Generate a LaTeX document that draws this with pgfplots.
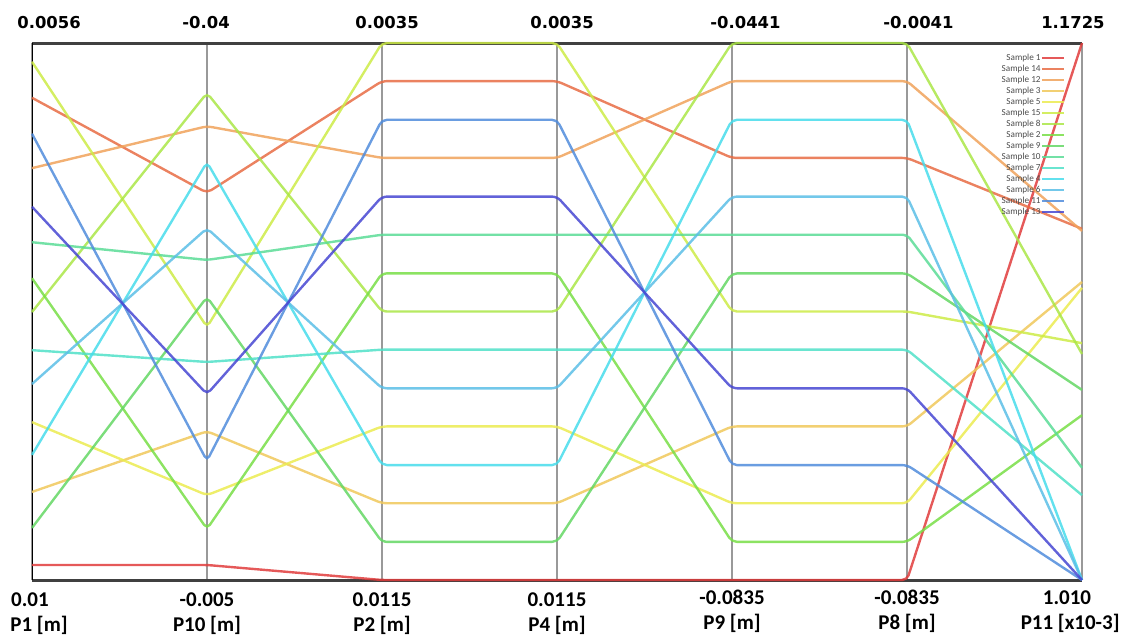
\documentclass[border=0pt]{standalone}
\usepackage{fontspec}
\setmainfont{Carlito}
\newfontfamily\topfont{DejaVu Sans}
\usepackage{pgfplots}
\pgfplotsset{compat=1.18}
\definecolor{s1}{RGB}{225,60,60}
\definecolor{s14}{RGB}{232,108,68}
\definecolor{s12}{RGB}{240,162,90}
\definecolor{s3}{RGB}{240,200,90}
\definecolor{s5}{RGB}{235,235,80}
\definecolor{s15}{RGB}{205,235,70}
\definecolor{s8}{RGB}{170,230,70}
\definecolor{s2}{RGB}{120,222,70}
\definecolor{s9}{RGB}{100,215,100}
\definecolor{s10}{RGB}{90,220,150}
\definecolor{s7}{RGB}{80,225,200}
\definecolor{s4}{RGB}{70,220,235}
\definecolor{s6}{RGB}{90,190,230}
\definecolor{s11}{RGB}{80,140,220}
\definecolor{s13}{RGB}{70,70,210}
\begin{document}
\begin{tikzpicture}
\begin{axis}[
  at={(0,0)}, anchor=south west,
  scale only axis, width=525pt, height=268.5pt,
  xmin=0, xmax=6, ymin=0, ymax=1,
  clip=false,
  axis x line*=box, axis y line*=none,
  x axis line style={line width=1.5pt, color=black!75},
  xtick={0,...,6}, xticklabels={}, ytick=\empty,
  major tick length=0pt,
  xmajorgrids, major grid style={line width=1pt, color=black!40},
  every axis plot/.append style={line width=1.2pt, opacity=0.85, rounded corners=2.5pt},
  legend cell align=right, legend plot pos=right,
  legend image code/.code={\draw[line width=1.2pt] (0pt,0pt) -- (11pt,0pt);},
  legend style={at={(0.9905,0.989)}, anchor=north east, draw=none, fill=none,
    font=\fontsize{4.6}{5}\selectfont, text=black!70,
    nodes={inner sep=0.3pt, text height=3.2pt, text depth=1pt},
    row sep=0.7pt},
]
\addplot[s1] coordinates {(0,0.028)(1,0.028)(2,0)(3,0)(4,0)(5,0)(6,1)};
\addlegendentry{Sample 1}
\addplot[s14] coordinates {(0,0.898)(1,0.721)(2,0.929)(3,0.929)(4,0.786)(5,0.786)(6,0.654)};
\addlegendentry{Sample 14}
\addplot[s12] coordinates {(0,0.767)(1,0.845)(2,0.786)(3,0.786)(4,0.929)(5,0.929)(6,0.650)};
\addlegendentry{Sample 12}
\addplot[s3] coordinates {(0,0.164)(1,0.277)(2,0.143)(3,0.143)(4,0.286)(5,0.286)(6,0.555)};
\addlegendentry{Sample 3}
\addplot[s5] coordinates {(0,0.294)(1,0.158)(2,0.286)(3,0.286)(4,0.143)(5,0.143)(6,0.544)};
\addlegendentry{Sample 5}
\addplot[s15] coordinates {(0,0.965)(1,0.471)(2,1)(3,1)(4,0.5)(5,0.5)(6,0.441)};
\addlegendentry{Sample 15}
\addplot[s8] coordinates {(0,0.499)(1,0.907)(2,0.5)(3,0.5)(4,1)(5,1)(6,0.421)};
\addlegendentry{Sample 8}
\addplot[s2] coordinates {(0,0.562)(1,0.095)(2,0.571)(3,0.571)(4,0.071)(5,0.071)(6,0.307)};
\addlegendentry{Sample 2}
\addplot[s9] coordinates {(0,0.097)(1,0.527)(2,0.071)(3,0.071)(4,0.571)(5,0.571)(6,0.354)};
\addlegendentry{Sample 9}
\addplot[s10] coordinates {(0,0.629)(1,0.596)(2,0.643)(3,0.643)(4,0.643)(5,0.643)(6,0.209)};
\addlegendentry{Sample 10}
\addplot[s7] coordinates {(0,0.428)(1,0.406)(2,0.429)(3,0.429)(4,0.429)(5,0.429)(6,0.158)};
\addlegendentry{Sample 7}
\addplot[s4] coordinates {(0,0.233)(1,0.778)(2,0.214)(3,0.214)(4,0.857)(5,0.857)(6,0)};
\addlegendentry{Sample 4}
\addplot[s6] coordinates {(0,0.365)(1,0.655)(2,0.357)(3,0.357)(4,0.714)(5,0.714)(6,0)};
\addlegendentry{Sample 6}
\addplot[s11] coordinates {(0,0.831)(1,0.222)(2,0.857)(3,0.857)(4,0.214)(5,0.214)(6,0)};
\addlegendentry{Sample 11}
\addplot[s13] coordinates {(0,0.695)(1,0.346)(2,0.714)(3,0.714)(4,0.357)(5,0.357)(6,0)};
\addlegendentry{Sample 13}
% top labels
\begin{scope}[every node/.style={font=\topfont\bfseries\fontsize{8.2}{10}\selectfont, inner sep=0pt}]
\node[anchor=base west] at ([xshift=-7.5pt,yshift=7.5pt]axis cs:0,1) {0.0056};
\node[anchor=base west] at ([xshift=-12.5pt,yshift=7.5pt]axis cs:1,1) {-0.04};
\node[anchor=base west] at ([xshift=-13.5pt,yshift=7.5pt]axis cs:2,1) {0.0035};
\node[anchor=base west] at ([xshift=-13.5pt,yshift=7.5pt]axis cs:3,1) {0.0035};
\node[anchor=base west] at ([xshift=-11pt,yshift=7.5pt]axis cs:4,1) {-0.0441};
\node[anchor=base west] at ([xshift=-12pt,yshift=7.5pt]axis cs:5,1) {-0.0041};
\node[anchor=base east] at ([xshift=11.5pt,yshift=7.5pt]axis cs:6,1) {1.1725};
\end{scope}
% bottom labels
\begin{scope}[every node/.style={font=\bfseries\fontsize{10.5}{12}\selectfont, inner sep=0pt}]
\node[anchor=base] at ([xshift=-1pt,yshift=-13pt]axis cs:0,0) {0.01};
\node[anchor=base west] at ([xshift=-11pt,yshift=-25.5pt]axis cs:0,0) {P1 [m]};
\node[anchor=base] at ([yshift=-13pt]axis cs:1,0) {-0.005};
\node[anchor=base] at ([yshift=-25.5pt]axis cs:1,0) {P10 [m]};
\node[anchor=base] at ([yshift=-13pt]axis cs:2,0) {0.0115};
\node[anchor=base] at ([yshift=-25.5pt]axis cs:2,0) {P2 [m]};
\node[anchor=base] at ([yshift=-13pt]axis cs:3,0) {0.0115};
\node[anchor=base] at ([yshift=-25.5pt]axis cs:3,0) {P4 [m]};
\node[anchor=base] at ([yshift=-12pt]axis cs:4,0) {-0.0835};
\node[anchor=base] at ([yshift=-24.5pt]axis cs:4,0) {P9 [m]};
\node[anchor=base] at ([yshift=-12pt]axis cs:5,0) {-0.0835};
\node[anchor=base] at ([yshift=-24.5pt]axis cs:5,0) {P8 [m]};
\node[anchor=base] at ([xshift=-7.5pt,yshift=-12pt]axis cs:6,0) {1.010};
\node[anchor=base east] at ([xshift=19pt,yshift=-24.5pt]axis cs:6,0) {P11 [x10-3]};
\end{scope}
\end{axis}
\path[use as bounding box] (-16pt,-29.5pt) rectangle (547.5pt,290pt);
\end{tikzpicture}
\end{document}
